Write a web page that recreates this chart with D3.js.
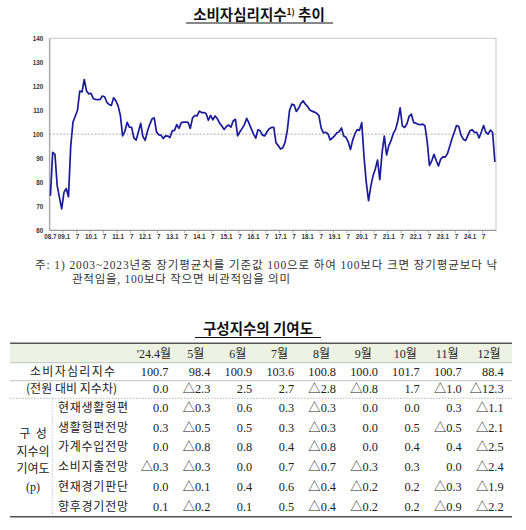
<!DOCTYPE html>
<html>
<head>
<meta charset="utf-8">
<script src="https://cdn.jsdelivr.net/npm/d3@7"></script>
<style>
  html, body { margin: 0; padding: 0; background: #fff; }
  svg { display: block; }
</style>
</head>
<body>
<svg id="chart" width="526" height="530"></svg>
<script>
// monthly CCSI, 2008.7 ~ 2024.12
const ccsiSeries = [
  74.3, 92.4, 91.6, 78.5, 73.5, 68.8,
  75.7, 77.3, 73.9, 95.0, 105.0, 107.5, 110.0, 118.0, 117.6, 122.8, 118.0, 116.8,
  117.0, 114.8, 114.5, 114.4, 114.5, 115.9, 115.6, 113.3, 112.4, 112.0, 115.2, 113.9,
  111.8, 107.8, 99.3, 101.2, 104.9, 102.9, 102.8, 98.4, 97.5, 101.0, 104.5, 99.0,
  97.4, 101.2, 104.0, 106.3, 106.8, 101.0, 99.7, 99.6, 98.2, 99.3, 99.2, 98.6,
  101.4, 101.6, 104.0, 102.4, 104.8, 105.0, 105.0, 104.9, 102.4, 106.8, 107.8, 107.6,
  109.6, 109.0, 109.0, 108.6, 105.8, 107.8, 106.0, 107.6, 106.4, 104.6, 103.4, 101.9,
  103.2, 103.8, 102.9, 105.5, 106.2, 99.3, 101.0, 102.4, 104.0, 106.6, 104.6, 102.3,
  100.1, 98.3, 101.8, 101.4, 99.6, 99.3, 101.0, 102.3, 102.8, 102.8, 96.3, 95.2,
  93.8, 94.3, 96.6, 101.6, 110.0, 112.5, 112.2, 109.5, 110.8, 112.8, 113.9, 112.5,
  111.5, 110.1, 109.6, 109.2, 108.7, 107.8, 102.5, 100.5, 100.8, 100.2, 97.6, 98.4,
  99.3, 100.6, 101.0, 102.6, 99.2, 98.7, 96.8, 93.6, 97.6, 100.2, 101.9, 101.6,
  104.8, 90.5, 79.9, 72.2, 78.2, 82.6, 85.5, 89.2, 81.0, 92.3, 99.2, 91.3,
  95.2, 97.4, 100.3, 102.0, 105.6, 111.0, 103.4, 102.8, 104.2, 107.5, 108.3, 104.8,
  104.6, 104.1, 104.0, 104.2, 103.5, 97.0, 86.9, 88.8, 91.6, 89.0, 86.7, 89.6,
  90.5, 90.4, 91.9, 95.0, 98.1, 100.8, 103.6, 103.2, 99.6, 97.9, 97.3, 99.4,
  101.5, 101.8, 100.7, 100.7, 98.4, 100.9, 103.6, 100.8, 100.0, 101.7, 100.7, 88.4
];

// x tick labels, one every 6 months starting at 2008.7
const xTickLabels = [
  "08.7", "09.1", "7", "10.1", "7", "11.1", "7", "12.1", "7", "13.1", "7",
  "14.1", "7", "15.1", "7", "16.1", "7", "17.1", "7", "18.1", "7", "19.1", "7",
  "20.1", "7", "21.1", "7", "22.1", "7", "23.1", "7", "24.1", "7"
];
const yTicks = [60, 70, 80, 90, 100, 110, 120, 130, 140];

// table data
const tableMonths = ["'24.4월", "5월", "6월", "7월", "8월", "9월", "10월", "11월", "12월"];
const ccsiIndex = [100.7, 98.4, 100.9, 103.6, 100.8, 100.0, 101.7, 100.7, 88.4];
const ccsiDiff = [0.0, -2.3, 2.5, 2.7, -2.8, -0.8, 1.7, -1.0, -12.3];
const currentLiving = [0.0, -0.3, 0.6, 0.3, -0.3, 0.0, 0.0, 0.3, -1.1];
const livingOutlook = [0.3, -0.5, 0.5, 0.3, -0.3, 0.0, 0.5, -0.5, -2.1];
const incomeOutlook = [0.0, -0.8, 0.8, 0.4, -0.8, 0.0, 0.4, 0.4, -2.5];
const spendingOutlook = [-0.3, -0.3, 0.0, 0.7, -0.7, -0.3, 0.3, 0.0, -2.4];
const currentEconomy = [0.0, -0.1, 0.4, 0.6, -0.4, -0.2, 0.2, -0.3, -1.9];
const futureEconomy = [0.1, -0.2, 0.1, 0.5, -0.4, -0.2, 0.2, -0.9, -2.2];
const componentNames = ["현재생활형편", "생활형편전망", "가계수입전망", "소비지출전망", "현재경기판단", "향후경기전망"];
const componentRows = [currentLiving, livingOutlook, incomeOutlook, spendingOutlook, currentEconomy, futureEconomy];

const svg = d3.select("#chart");
const HANGUL = "'Noto Sans CJK KR', 'Noto Sans', sans-serif";
const SERIF = "'Liberation Serif', 'Noto Sans CJK KR', serif";
const SANS = "'Liberation Sans', Arial, sans-serif";

// ---------- title ----------
const title = svg.append("text")
    .attr("x", 259)
    .attr("y", 20)
    .attr("text-anchor", "middle")
    .attr("font-family", HANGUL)
    .attr("font-weight", "bold")
    .attr("font-size", 14.5)
    .attr("fill", "#111");
title.append("tspan").text("소비자심리지수");
title.append("tspan").attr("font-size", 8.5).attr("dy", -5).text("1)");
title.append("tspan").attr("dy", 5).text(" 추이");
svg.append("line")
    .attr("x1", 186).attr("x2", 333)
    .attr("y1", 23).attr("y2", 23)
    .attr("stroke", "#111").attr("stroke-width", 1);

// ---------- line chart ----------
const plot = { left: 49.3, right: 496, top: 38.3, bottom: 230 };

const x = d3.scaleBand()
    .domain(d3.range(ccsiSeries.length))
    .range([plot.left, plot.right])
    .padding(0);
const y = d3.scaleLinear()
    .domain([60, 140])
    .range([plot.bottom, plot.top]);

// frame
svg.append("rect")
    .attr("x", plot.left).attr("y", plot.top)
    .attr("width", plot.right - plot.left)
    .attr("height", plot.bottom - plot.top)
    .attr("fill", "none")
    .attr("stroke", "#c8c8c8")
    .attr("stroke-width", 1);

// y axis
const yAxis = svg.append("g")
    .attr("transform", `translate(${plot.left},0)`)
    .call(d3.axisLeft(y).tickValues(yTicks).tickSize(0).tickPadding(6));
yAxis.select(".domain").attr("stroke", "#999");
yAxis.selectAll("text")
    .attr("font-family", SANS)
    .attr("font-weight", "bold")
    .attr("font-size", 6.3)
    .attr("fill", "#333");

// x axis: ticks at category boundaries, labels centred on the month
const tickIdx = xTickLabels.map((d, i) => i * 6);
const xAxis = svg.append("g")
    .attr("transform", `translate(0,${plot.bottom})`)
    .call(d3.axisBottom(x)
        .tickValues(tickIdx)
        .tickSize(0)
        .tickPadding(5)
        .tickFormat((d, i) => xTickLabels[i]));
xAxis.select(".domain").attr("stroke", "#999");
xAxis.selectAll("text")
    .attr("font-family", SANS)
    .attr("font-weight", "bold")
    .attr("font-size", 6.3)
    .attr("fill", "#333");
xAxis.selectAll(".tick-mark")
    .data(tickIdx.filter(d => d > 0))
    .join("line")
    .attr("class", "tick-mark")
    .attr("x1", d => x(d)).attr("x2", d => x(d))
    .attr("y1", 0).attr("y2", 3)
    .attr("stroke", "#999")
    .attr("stroke-width", 0.8);

// reference line at 100
svg.append("line")
    .attr("x1", plot.left).attr("x2", plot.right)
    .attr("y1", y(100)).attr("y2", y(100))
    .attr("stroke", "#999")
    .attr("stroke-width", 0.8)
    .attr("stroke-dasharray", "2,1.5");

const line = d3.line()
    .x((d, i) => x(i) + x.bandwidth() / 2)
    .y(d => y(d));
svg.append("path")
    .datum(ccsiSeries)
    .attr("d", line)
    .attr("fill", "none")
    .attr("stroke", "#1a1a9c")
    .attr("stroke-width", 1.7)
    .attr("stroke-linejoin", "round");

// ---------- footnote ----------
const note = svg.append("g")
    .attr("font-family", SERIF)
    .attr("font-size", 11.5)
    .attr("fill", "#333");
note.append("text")
    .attr("x", 35).attr("y", 269)
    .attr("textLength", 462)
    .attr("lengthAdjust", "spacing")
    .text("주: 1) 2003~2023년중 장기평균치를 기준값 100으로 하여 100보다 크면 장기평균보다 낙");
note.append("text")
    .attr("x", 72).attr("y", 283)
    .attr("textLength", 218)
    .attr("lengthAdjust", "spacing")
    .text("관적임을, 100보다 작으면 비관적임을 의미");

// ---------- table title ----------
svg.append("text")
    .attr("x", 258)
    .attr("y", 334)
    .attr("text-anchor", "middle")
    .attr("font-family", HANGUL)
    .attr("font-weight", "bold")
    .attr("font-size", 14.5)
    .attr("fill", "#111")
    .text("구성지수의 기여도");
svg.append("line")
    .attr("x1", 195).attr("x2", 321)
    .attr("y1", 337.5).attr("y2", 337.5)
    .attr("stroke", "#111").attr("stroke-width", 1);

// ---------- table ----------
const tbl = { left: 10, right: 512, top: 343.3, headBottom: 362.7, bottom: 516.7 };
const col = d3.scaleBand()
    .domain(tableMonths)
    .range([134, 511])
    .padding(0);
const colRight = m => col(m) + col.bandwidth() / 2 + 13.5;

const fmt = v => (v < 0 ? "△" + Math.abs(v).toFixed(1) : v.toFixed(1));

const table = svg.append("g").attr("fill", "#222");

table.append("rect")
    .attr("x", tbl.left).attr("y", tbl.top)
    .attr("width", tbl.right - tbl.left)
    .attr("height", tbl.headBottom - tbl.top)
    .attr("fill", "#edf2e2");

// header
table.selectAll(".head")
    .data(tableMonths)
    .join("text")
    .attr("class", "head")
    .attr("x", d => col(d) + col.bandwidth() / 2 - 1)
    .attr("y", 357.5)
    .attr("text-anchor", "middle")
    .attr("font-family", SERIF)
    .attr("font-size", 12)
    .text(d => d);

// index row and change row
const rowY = { index: 375.8, diff: 393.4 };
table.append("text")
    .attr("x", 30).attr("y", rowY.index)
    .attr("textLength", 85).attr("lengthAdjust", "spacing")
    .attr("font-family", HANGUL).attr("font-size", 12)
    .text("소비자심리지수");
table.append("text")
    .attr("x", 26).attr("y", rowY.diff)
    .attr("textLength", 91).attr("lengthAdjust", "spacing")
    .attr("font-family", HANGUL).attr("font-size", 12)
    .text("(전원 대비 지수차)");

[[ccsiIndex, rowY.index], [ccsiDiff, rowY.diff]].forEach(([vals, yy]) => {
    table.append("g").selectAll("text")
        .data(vals)
        .join("text")
        .attr("x", (d, i) => colRight(tableMonths[i]))
        .attr("y", yy)
        .attr("text-anchor", "end")
        .attr("font-family", SERIF)
        .attr("font-size", 12.3)
        .text(d => fmt(d));
});

// component rows
const compY = d3.scalePoint()
    .domain(componentNames)
    .range([411.8, 510.8]);

componentNames.forEach((name, r) => {
    const yy = compY(name);
    table.append("text")
        .attr("x", 58).attr("y", yy)
        .attr("textLength", 70).attr("lengthAdjust", "spacing")
        .attr("font-family", HANGUL).attr("font-size", 12)
        .text(name);
    table.append("g").selectAll("text")
        .data(componentRows[r])
        .join("text")
        .attr("x", (d, i) => colRight(tableMonths[i]))
        .attr("y", yy)
        .attr("text-anchor", "end")
        .attr("font-family", SERIF)
        .attr("font-size", 12.3)
        .text(d => fmt(d));
});

// group label on the left
const groupLines = ["구  성", "지수의", "기여도", "(p)"];
table.selectAll(".grp")
    .data(groupLines)
    .join("text")
    .attr("class", "grp")
    .attr("x", 33)
    .attr("y", (d, i) => 437.8 + i * 17.7)
    .attr("text-anchor", "middle")
    .attr("font-family", (d, i) => i === 3 ? SERIF : HANGUL)
    .attr("font-size", 12)
    .attr("xml:space", "preserve")
    .text(d => d);

// rules
const rules = svg.append("g");
rules.append("line")
    .attr("x1", tbl.left).attr("x2", tbl.right)
    .attr("y1", tbl.top).attr("y2", tbl.top)
    .attr("stroke", "#555").attr("stroke-width", 1.4);
rules.append("line")
    .attr("x1", tbl.left).attr("x2", tbl.right)
    .attr("y1", tbl.headBottom).attr("y2", tbl.headBottom)
    .attr("stroke", "#aaa").attr("stroke-width", 0.7);
rules.append("line")
    .attr("x1", tbl.left).attr("x2", tbl.right)
    .attr("y1", 380.7).attr("y2", 380.7)
    .attr("stroke", "#aaa").attr("stroke-width", 0.7);
rules.append("line")
    .attr("x1", tbl.left).attr("x2", tbl.right)
    .attr("y1", 398.3).attr("y2", 398.3)
    .attr("stroke", "#999").attr("stroke-width", 0.7)
    .attr("stroke-dasharray", "1.5,1.5");
rules.append("line")
    .attr("x1", 52.3).attr("x2", 52.3)
    .attr("y1", 398.3).attr("y2", tbl.bottom)
    .attr("stroke", "#aaa").attr("stroke-width", 0.7)
    .attr("stroke-dasharray", "1.5,1.5");
rules.append("line")
    .attr("x1", tbl.left).attr("x2", tbl.right)
    .attr("y1", tbl.bottom).attr("y2", tbl.bottom)
    .attr("stroke", "#555").attr("stroke-width", 1.4);
</script>
</body>
</html>
